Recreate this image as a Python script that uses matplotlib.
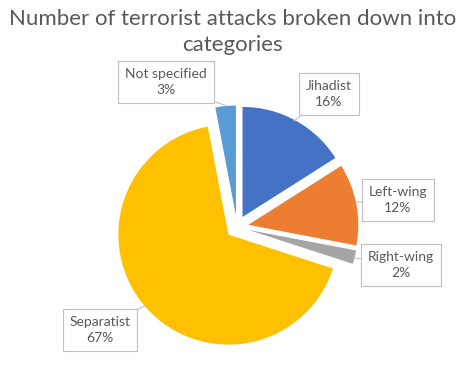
import matplotlib
matplotlib.use("Agg")
import matplotlib.pyplot as plt

categories = ["Jihadist", "Left-wing", "Right-wing", "Separatist", "Not specified"]
values = [16, 12, 2, 67, 3]
colors = ["#4472C4", "#ED7D31", "#A5A5A5", "#FFC000", "#5B9BD5"]
title = "Number of terrorist attacks broken down into\ncategories"

W, H = 465, 367
fig = plt.figure(figsize=(W / 100, H / 100), dpi=100)
ax = fig.add_axes([0, 0, 1, 1])

cx, cy, r = 237, H - 227, 110
wedges, _ = ax.pie(values, colors=colors, startangle=90, counterclock=False,
                   explode=[11.5] * len(values), radius=r, center=(cx, cy),
                   frame=True, wedgeprops=dict(linewidth=0))
ax.set_xlim(0, W)
ax.set_ylim(0, H)
ax.set_aspect("equal")
ax.axis("off")

font = "Lato"
txtcol = "#595959"
fig.text(0.5, 1 - 32 / H, title, ha="center", va="center", fontsize=16,
         color=txtcol, family=font, linespacing=1.32)

# label boxes: (text center in image px, pointer target in image px)
box_pos = [(329, 94), (398, 200), (401, 265), (100, 330), (166, 82)]
targets = [(294, 121), (357, 202), (355, 258), (146, 305), (226, 106)]
for cat, v, (bx, by), (tx, ty) in zip(categories, values, box_pos, targets):
    ax.annotate(f"{cat}\n{v}%", xy=(tx, H - ty), xytext=(bx, H - by),
                ha="center", va="center", fontsize=10, color=txtcol,
                family=font, linespacing=1.35,
                bbox=dict(boxstyle="square,pad=0.5", fc="white",
                          ec="#BFBFBF", lw=0.8),
                arrowprops=dict(arrowstyle="-", color="#BFBFBF", lw=0.8,
                                shrinkA=0, shrinkB=0))

fig.savefig("out.png", dpi=100)
